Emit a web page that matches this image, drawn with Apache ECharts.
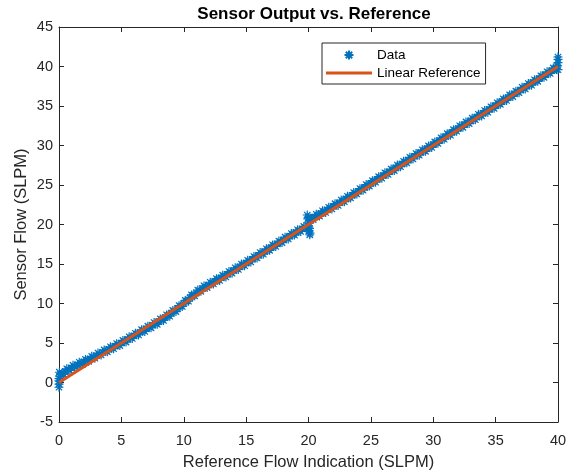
<!DOCTYPE html>
<html>
<head>
<meta charset="utf-8">
<script src="https://cdn.jsdelivr.net/npm/echarts@6/dist/echarts.min.js"></script>
<style>
  html, body { margin: 0; padding: 0; background: #ffffff; }
  #chart { width: 574px; height: 473px; }
</style>
</head>
<body>
<div id="chart"></div>
<script>
// Reference flow indication (SLPM), first sweep of samples
const refFlowA = [
  0, 0, 0, 0, 0.03, 0.05,
  0.25, 0.5, 0.75, 1, 1.25, 1.5, 1.75,
  2, 2.25, 2.5, 2.75, 3, 3.25, 3.5, 3.75,
  4, 4.25, 4.5, 4.75, 5, 5.25, 5.5, 5.75,
  6, 6.25, 6.5, 6.75, 7, 7.25, 7.5, 7.75,
  8, 8.25, 8.5, 8.75, 9, 9.25, 9.5, 9.75,
  10, 10.25, 10.5, 10.75, 11, 11.25, 11.5, 11.75,
  12, 12.25, 12.5, 12.75, 13, 13.25, 13.5, 13.75,
  14, 14.25, 14.5, 14.75, 15, 15.25, 15.5, 15.75,
  16, 16.25, 16.5, 16.75, 17, 17.25, 17.5, 17.75,
  18, 18.25, 18.5, 18.75, 19, 19.25, 19.5, 19.75,
  19.9, 19.95, 19.98, 20, 20.02, 20.05, 20.08, 20.1, 20.12,
  20.25, 20.5, 20.75, 21, 21.25, 21.5, 21.75,
  22, 22.25, 22.5, 22.75, 23, 23.25, 23.5, 23.75,
  24, 24.25, 24.5, 24.75, 25, 25.25, 25.5, 25.75,
  26, 26.25, 26.5, 26.75, 27, 27.25, 27.5, 27.75,
  28, 28.25, 28.5, 28.75, 29, 29.25, 29.5, 29.75,
  30, 30.25, 30.5, 30.75, 31, 31.25, 31.5, 31.75,
  32, 32.25, 32.5, 32.75, 33, 33.25, 33.5, 33.75,
  34, 34.25, 34.5, 34.75, 35, 35.25, 35.5, 35.75,
  36, 36.25, 36.5, 36.75, 37, 37.25, 37.5, 37.75,
  38, 38.25, 38.5, 38.75, 39, 39.25, 39.5, 39.75,
  39.95, 40, 40, 40, 40
];

// Sensor flow reading (SLPM), first sweep of samples
const sensorFlowA = [
  -0.6, -0.2, 0.2, 0.5, 1.3, 0.8,
  1.1, 1.4, 1.62, 1.85, 2.05, 2.25, 2.43,
  2.6, 2.8, 3.0, 3.2, 3.4, 3.6, 3.8, 4.0,
  4.2, 4.4, 4.6, 4.8, 5.0, 5.22, 5.45, 5.68,
  5.9, 6.12, 6.35, 6.57, 6.8, 7.02, 7.25, 7.47,
  7.7, 7.95, 8.2, 8.47, 8.75, 9.05, 9.35, 9.67,
  10.0, 10.33, 10.7, 11.02, 11.35, 11.62, 11.9, 12.12,
  12.35, 12.58, 12.8, 13.03, 13.25, 13.47, 13.7, 13.93,
  14.17, 14.4, 14.65, 14.88, 15.12, 15.36, 15.6, 15.85,
  16.1, 16.35, 16.58, 16.83, 17.07, 17.32, 17.55, 17.8,
  18.05, 18.28, 18.52, 18.76, 19.0, 19.22, 19.45, 19.62,
  21.2, 20.7, 20.9, 20.2, 19.7, 19.2, 19.5, 18.7, 18.9,
  20.75, 20.95, 21.18, 21.4, 21.62, 21.85, 22.07,
  22.3, 22.52, 22.76, 22.99, 23.23, 23.46, 23.7, 23.95,
  24.2, 24.44, 24.7, 24.95, 25.2, 25.45, 25.7, 25.95,
  26.2, 26.44, 26.68, 26.92, 27.17, 27.42, 27.66, 27.9,
  28.15, 28.4, 28.64, 28.88, 29.12, 29.36, 29.6, 29.84,
  30.1, 30.36, 30.62, 30.88, 31.14, 31.4, 31.65, 31.9,
  32.15, 32.4, 32.64, 32.88, 33.12, 33.36, 33.6, 33.84,
  34.08, 34.32, 34.56, 34.8, 35.05, 35.3, 35.55, 35.8,
  36.05, 36.3, 36.54, 36.78, 37.02, 37.26, 37.5, 37.74,
  37.98, 38.22, 38.47, 38.72, 38.97, 39.22, 39.47, 39.72,
  40.1, 39.6, 40.5, 40.9, 41.2
];

// Reference flow indication (SLPM), second sweep of samples
const refFlowB = [
  0.125, 0.375, 0.625, 0.875, 1.125, 1.375, 1.625, 1.875,
  2.125, 2.375, 2.625, 2.875, 3.125, 3.375, 3.625, 3.875,
  4.125, 4.375, 4.625, 4.875, 5.125, 5.375, 5.625, 5.875,
  6.125, 6.375, 6.625, 6.875, 7.125, 7.375, 7.625, 7.875,
  8.125, 8.375, 8.625, 8.875, 9.125, 9.375, 9.625, 9.875,
  10.125, 10.375, 10.625, 10.875, 11.125, 11.375, 11.625, 11.875,
  12.125, 12.375, 12.625, 12.875, 13.125, 13.375, 13.625, 13.875,
  14.125, 14.375, 14.625, 14.875, 15.125, 15.375, 15.625, 15.875,
  16.125, 16.375, 16.625, 16.875, 17.125, 17.375, 17.625, 17.875,
  18.125, 18.375, 18.625, 18.875, 19.125, 19.375, 19.625, 19.875,
  20.125, 20.375, 20.625, 20.875, 21.125, 21.375, 21.625, 21.875,
  22.125, 22.375, 22.625, 22.875, 23.125, 23.375, 23.625, 23.875,
  24.125, 24.375, 24.625, 24.875, 25.125, 25.375, 25.625, 25.875,
  26.125, 26.375, 26.625, 26.875, 27.125, 27.375, 27.625, 27.875,
  28.125, 28.375, 28.625, 28.875, 29.125, 29.375, 29.625, 29.875,
  30.125, 30.375, 30.625, 30.875, 31.125, 31.375, 31.625, 31.875,
  32.125, 32.375, 32.625, 32.875, 33.125, 33.375, 33.625, 33.875,
  34.125, 34.375, 34.625, 34.875, 35.125, 35.375, 35.625, 35.875,
  36.125, 36.375, 36.625, 36.875, 37.125, 37.375, 37.625, 37.875,
  38.125, 38.375, 38.625, 38.875, 39.125, 39.375, 39.625, 39.875
];

// Sensor flow reading (SLPM), second sweep of samples
const sensorFlowB = [
  1.02, 1.03, 1.73, 1.52, 2.17, 1.93, 2.56, 2.30,
  2.92, 2.68, 3.32, 3.08, 3.72, 3.48, 4.12, 3.88,
  4.52, 4.28, 4.92, 4.68, 5.33, 5.12, 5.79, 5.57,
  6.23, 6.02, 6.68, 6.47, 7.13, 6.92, 7.58, 7.37,
  8.05, 7.86, 8.56, 8.39, 9.12, 8.98, 9.73, 9.62,
  10.39, 10.30, 11.08, 10.97, 11.71, 11.54, 12.23, 12.02,
  12.69, 12.47, 13.14, 12.92, 13.58, 13.37, 14.04, 13.83,
  14.51, 14.31, 14.99, 14.78, 15.46, 15.26, 15.95, 15.76,
  16.45, 16.25, 16.93, 16.73, 17.42, 17.22, 17.90, 17.71,
  18.39, 18.18, 18.86, 18.66, 19.33, 19.12, 19.76, 19.48,
  20.82, 20.63, 21.29, 21.07, 21.73, 21.52, 22.18, 21.97,
  22.63, 22.42, 23.10, 22.89, 23.57, 23.36, 24.05, 23.86,
  24.54, 24.35, 25.05, 24.86, 25.55, 25.36, 26.05, 25.86,
  26.54, 26.34, 27.02, 26.83, 27.52, 27.32, 28.00, 27.81,
  28.50, 28.30, 28.98, 28.78, 29.46, 29.26, 29.94, 29.75,
  30.45, 30.27, 30.97, 30.79, 31.49, 31.31, 32.00, 31.81,
  32.50, 32.30, 32.98, 32.78, 33.46, 33.26, 33.94, 33.74,
  34.42, 34.22, 34.90, 34.71, 35.40, 35.21, 35.90, 35.71,
  36.40, 36.20, 36.88, 36.68, 37.36, 37.16, 37.84, 37.64,
  38.32, 38.12, 38.82, 38.63, 39.32, 39.13, 39.82, 39.63
];

// Linear reference: sensor flow equal to reference flow
const linearRefX = [0, 40];
const linearRefY = [0, 40];

// Axis tick values
const xTicks = [0, 5, 10, 15, 20, 25, 30, 35, 40];
const yTicks = [-5, 0, 5, 10, 15, 20, 25, 30, 35, 40, 45];

const FONT = "'Liberation Sans', Arial, Helvetica, sans-serif";
const INK = '#262626';
const BLUE = '#0072BD';
const ORANGE = '#D95319';
const ASTERISK = 'path://M0,5L10,5M5,0L5,10M1.46,1.46L8.54,8.54M1.46,8.54L8.54,1.46';
const LINE_ICON = 'path://M0,0L46,0L46,3L0,3Z';

const dataPoints = refFlowA.map((x, i) => [x, sensorFlowA[i]])
  .concat(refFlowB.map((x, i) => [x, sensorFlowB[i]]));
const linePoints = linearRefX.map((x, i) => [x, linearRefY[i]]);

function axisBase(ticks, extra) {
  return Object.assign({
    type: 'value',
    min: ticks[0],
    max: ticks[ticks.length - 1],
    interval: ticks[1] - ticks[0],
    splitLine: { show: false },
    axisLine: { show: true, onZero: false, lineStyle: { color: INK, width: 1 } },
    axisTick: { show: true, inside: true, length: 5, lineStyle: { color: INK, width: 1 } },
    axisLabel: { show: false },
    nameMoveOverlap: false
  }, extra);
}

const chart = echarts.init(document.getElementById('chart'), null, { renderer: 'canvas' });

chart.setOption({
  animation: false,
  backgroundColor: '#ffffff',
  title: {
    text: 'Sensor Output vs. Reference',
    left: 309,
    top: 1,
    textAlign: 'center',
    textStyle: { fontFamily: FONT, fontSize: 17, fontWeight: 'bold', color: '#000000' }
  },
  grid: { left: 59, right: 16, top: 27, bottom: 51, containLabel: false, outerBoundsMode: 'none' },
  legend: {
    orient: 'vertical',
    left: 322,
    top: 43,
    padding: [5, 5, 4, 4],
    itemWidth: 46,
    itemHeight: 9,
    itemGap: 4,
    backgroundColor: '#ffffff',
    borderColor: INK,
    borderWidth: 1,
    borderRadius: 0,
    textStyle: { fontFamily: FONT, fontSize: 13.5, color: '#000000' },
    data: [
      { name: 'Data' },
      { name: 'Linear Reference', icon: LINE_ICON }
    ]
  },
  xAxis: [
    axisBase(xTicks, {
      position: 'bottom',
      name: 'Reference Flow Indication (SLPM)',
      nameLocation: 'middle',
      nameGap: 32,
      nameTextStyle: { fontFamily: FONT, fontSize: 16.5, color: INK },
      axisLabel: { show: true, color: INK, fontFamily: FONT, fontSize: 14.5, margin: 11 }
    }),
    axisBase(xTicks, { position: 'top' })
  ],
  yAxis: [
    axisBase(yTicks, {
      position: 'left',
      name: 'Sensor Flow (SLPM)',
      nameLocation: 'middle',
      nameGap: 29,
      nameTextStyle: { fontFamily: FONT, fontSize: 16.5, color: INK },
      axisLabel: { show: true, color: INK, fontFamily: FONT, fontSize: 14.5, margin: 6 }
    }),
    axisBase(yTicks, { position: 'right' })
  ],
  series: [
    {
      name: 'Data',
      type: 'scatter',
      xAxisIndex: 0,
      yAxisIndex: 0,
      symbol: ASTERISK,
      symbolSize: 9,
      itemStyle: { color: BLUE, borderColor: BLUE, borderWidth: 1.2, opacity: 1 },
      emphasis: { disabled: true },
      data: dataPoints,
      z: 2
    },
    {
      name: 'Linear Reference',
      type: 'line',
      xAxisIndex: 0,
      yAxisIndex: 0,
      symbol: 'none',
      lineStyle: { color: ORANGE, width: 3 },
      itemStyle: { color: ORANGE },
      emphasis: { disabled: true },
      data: linePoints,
      z: 3
    }
  ]
});
</script>
</body>
</html>
